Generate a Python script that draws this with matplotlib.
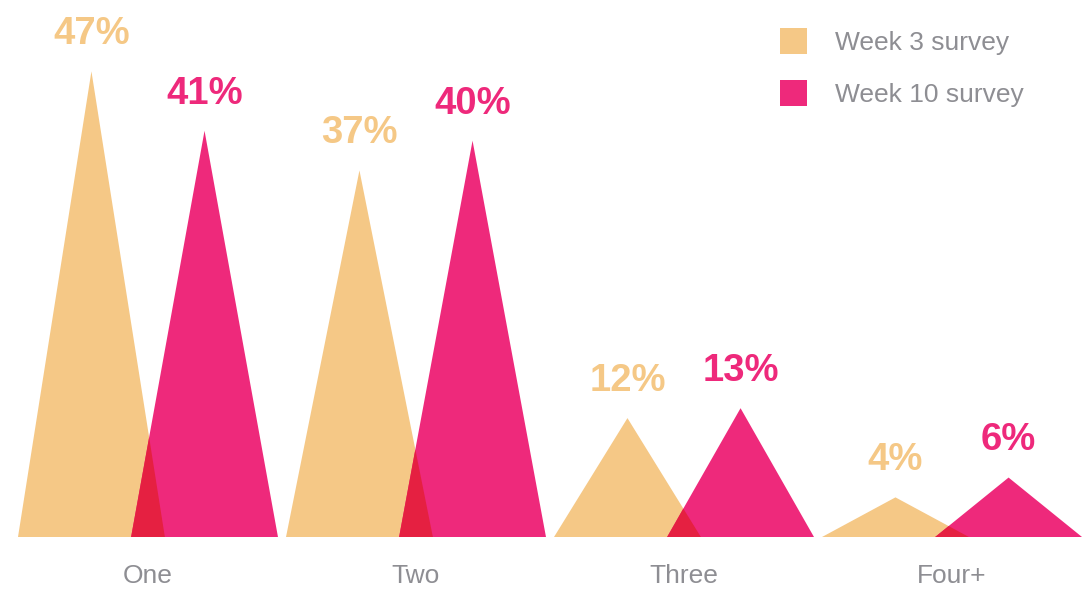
import matplotlib
matplotlib.use("Agg")
import matplotlib.pyplot as plt
import matplotlib.colors as mcolors
import numpy as np

categories = ["One", "Two", "Three", "Four+"]
week3 = [47, 37, 12, 4]
week10 = [41, 40, 13, 6]
series_names = ["Week 3 survey", "Week 10 survey"]
colors = ["#F5C886", "#EE297B"]

plt.rcParams['font.family'] = ['Liberation Sans', 'DejaVu Sans']

fig = plt.figure(figsize=(10.83, 5.98), dpi=100)
ax = fig.add_axes([18 / 1083, (598 - 537) / 598, 1064 / 1083, 537 / 598])
ax.set_xlim(-0.485, 3.485)
ax.set_ylim(0, 54.2)
ax.axis('off')

d = 0.211   # apex offset from group centre
w = 0.274   # triangle half width

c_o = np.array(mcolors.to_rgb(colors[0]))
c_p = np.array(mcolors.to_rgb(colors[1]))
c_mul = c_o * c_p

for i, (ho, hp) in enumerate(zip(week3, week10)):
    xo = i - d
    xp = i + d
    ax.fill([xo - w, xo, xo + w], [0, ho, 0], color=colors[0], lw=0, zorder=2)
    ax.fill([xp - w, xp, xp + w], [0, hp, 0], color=colors[1], lw=0, zorder=3)
    # overlap (multiply blend)
    xs = (ho * (xo + w) + hp * (xp - w)) / (ho + hp)
    ys = hp * (xs - (xp - w)) / w
    ax.fill([xp - w, xs, xo + w], [0, ys, 0], color=c_mul, lw=0, zorder=4)
    ax.annotate(f"{ho}%", (xo, ho), xytext=(0, 19.5), textcoords='offset points',
                ha='center', va='baseline', fontsize=27.5, fontweight='bold',
                color=colors[0], zorder=5, annotation_clip=False)
    ax.annotate(f"{hp}%", (xp, hp), xytext=(0, 19.5), textcoords='offset points',
                ha='center', va='baseline', fontsize=27.5, fontweight='bold',
                color=colors[1], zorder=5, annotation_clip=False)
    ax.annotate(categories[i], (i, 0), xytext=(0, -33), textcoords='offset points',
                ha='center', va='baseline', fontsize=19, color='#8E8E93',
                annotation_clip=False)

# legend
for k, (name, col) in enumerate(zip(series_names, colors)):
    yc = 1 - (41 + 52 * k) / 598
    fig.patches.append(plt.Rectangle((780 / 1083, yc - 13 / 598), 27 / 1083, 26 / 598,
                                     transform=fig.transFigure, color=col, lw=0))
    fig.text(835 / 1083, yc - 2 / 598, name, ha='left', va='center', fontsize=19,
             color='#8E8E93')

fig.savefig("out.png", dpi=100)
